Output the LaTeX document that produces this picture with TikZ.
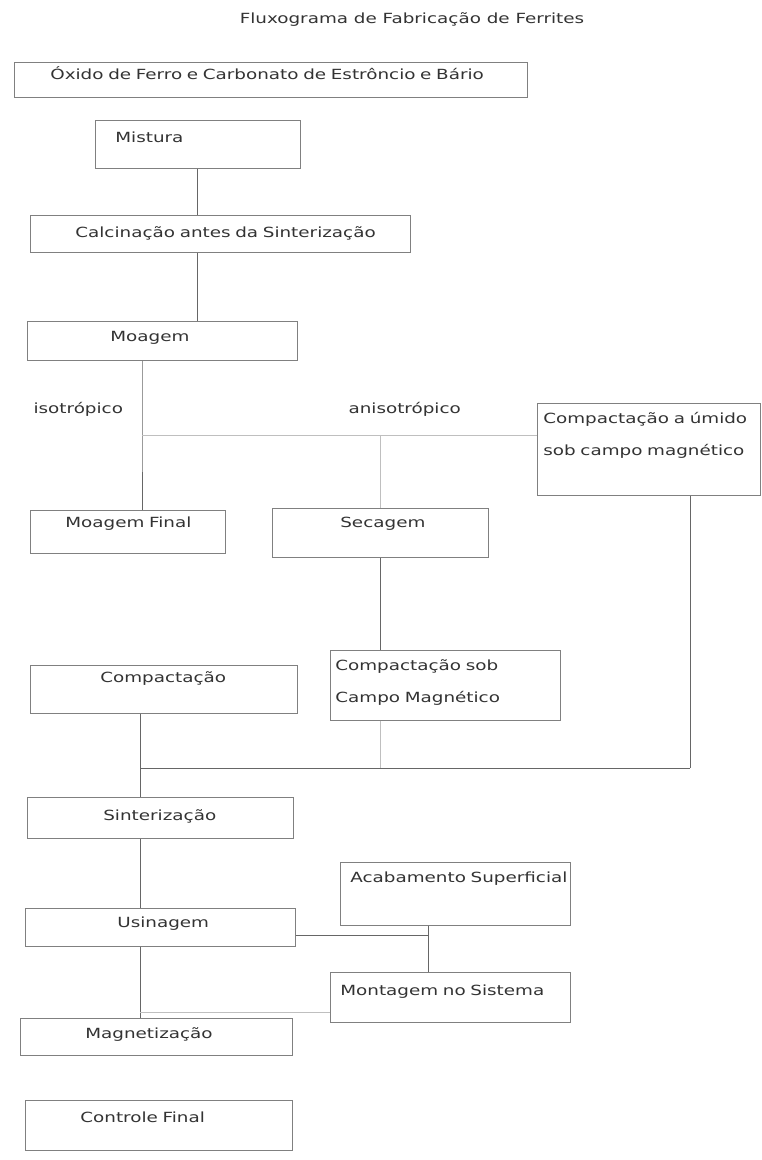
\documentclass[tikz,border=0pt]{standalone}
\usepackage{fontspec}
\setmainfont{DejaVu Sans}[FakeStretch=1.31]
\begin{document}
\begin{tikzpicture}[x=1pt, y=-1pt,
  font=\fontsize{14}{17}\selectfont, text=black!80,
  stage/.style={draw=black!50, line width=0.7pt, anchor=north west, inner sep=0pt, align=left},
  pad/.style={execute at begin node={\hspace*{#1}}},
  twoline/.style={font=\fontsize{14}{32}\selectfont},
  link/.style={draw=black!60, line width=0.8pt},
  faint/.style={draw=black!25, line width=0.8pt}]
\useasboundingbox (0,0) rectangle (761,1160);
\node (title) [anchor=base] at (412,23) {Fluxograma de Fabricação de Ferrites};
\node (oxido) [stage, text width=513pt, text height=17pt, text depth=18pt, pad=36pt] at (14,62) {Óxido de Ferro e Carbonato de Estrôncio e Bário};
\node (mistura) [stage, text width=205pt, text height=22pt, text depth=26pt, pad=20pt] at (95,120) {Mistura};
\node (calcin) [stage, text width=380pt, text height=22pt, text depth=15pt, pad=45pt] at (30,215) {Calcinação antes da Sinterização};
\node (moagem) [stage, text width=270pt, text height=20pt, text depth=19pt, pad=83pt] at (27,321) {Moagem};
\node (iso) [anchor=base west] at (30,413) {isotrópico};
\node (aniso) [anchor=base west] at (345,413) {anisotrópico};
\node (umido) [stage, twoline, text width=211pt, inner xsep=6pt, text height=20pt, text depth=72pt] at (537,403) {Compactação a úmido\\sob campo magnético};
\node (moagfin) [stage, text width=195pt, text height=17pt, text depth=26pt, pad=35pt] at (30,510) {Moagem Final};
\node (secagem) [stage, text width=216pt, text height=19pt, text depth=30pt, pad=68pt] at (272,508) {Secagem};
\node (campo) [stage, twoline, text width=220pt, inner xsep=5pt, text height=20pt, text depth=50pt] at (330,650) {Compactação sob\\Campo Magnético};
\node (compac) [stage, text width=267pt, text height=17pt, text depth=31pt, pad=70pt] at (30,665) {Compactação};
\node (sinter) [stage, text width=266pt, text height=23pt, text depth=18pt, pad=76pt] at (27,797) {Sinterização};
\node (acab) [stage, text width=230pt, text height=20pt, text depth=43pt, pad=10pt] at (340,862) {Acabamento Superficial};
\node (usinag) [stage, text width=270pt, text height=19pt, text depth=19pt, pad=92pt] at (25,908) {Usinagem};
\node (montag) [stage, text width=240pt, text height=23pt, text depth=27pt, pad=10pt] at (330,972) {Montagem no Sistema};
\node (magnet) [stage, text width=272pt, text height=20pt, text depth=17pt, pad=65pt] at (20,1018) {Magnetização};
\node (controle) [stage, text width=267pt, text height=22pt, text depth=28pt, pad=55pt] at (25,1100) {Controle Final};
% mistura -> calcinacao -> moagem
\draw[link] (mistura.south) -- (mistura.south |- calcin.north);
\draw[link] (mistura.south |- calcin.south) -- (mistura.south |- moagem.north);
% moagem branches
\coordinate (split) at (142,435);
\draw[link] ([xshift=115pt]moagem.south west) -- (split) -- (split |- moagfin.north);
\draw[faint] (split) -- (split -| umido.west);
\draw[faint] (split -| secagem.north) -- (secagem.north);
\draw[link] (secagem.south) -- (secagem.south |- campo.north);
% join before sinterizacao
\coordinate (join) at (140,768);
\coordinate (drop) at ([xshift=153pt]umido.south west);
\draw[link] (join |- compac.south) -- (join |- sinter.north);
\draw[link] (join) -- (join -| drop);
\draw[link] (drop) -- (drop |- join);
\draw[faint] (secagem.south |- campo.south) -- (secagem.south |- join);
\draw[link] (join |- sinter.south) -- (join |- usinag.north);
% usinagem -> acabamento, montagem, magnetizacao
\coordinate (fork) at (428,935);
\draw[link] (usinag.east |- fork) -- (fork);
\draw[link] (fork |- acab.south) -- (fork |- montag.north);
\draw[link] (join |- usinag.south) -- (join |- magnet.north);
\coordinate (tap) at (140,1012);
\draw[faint] (tap) -- (tap -| montag.west);
\end{tikzpicture}
\end{document}
